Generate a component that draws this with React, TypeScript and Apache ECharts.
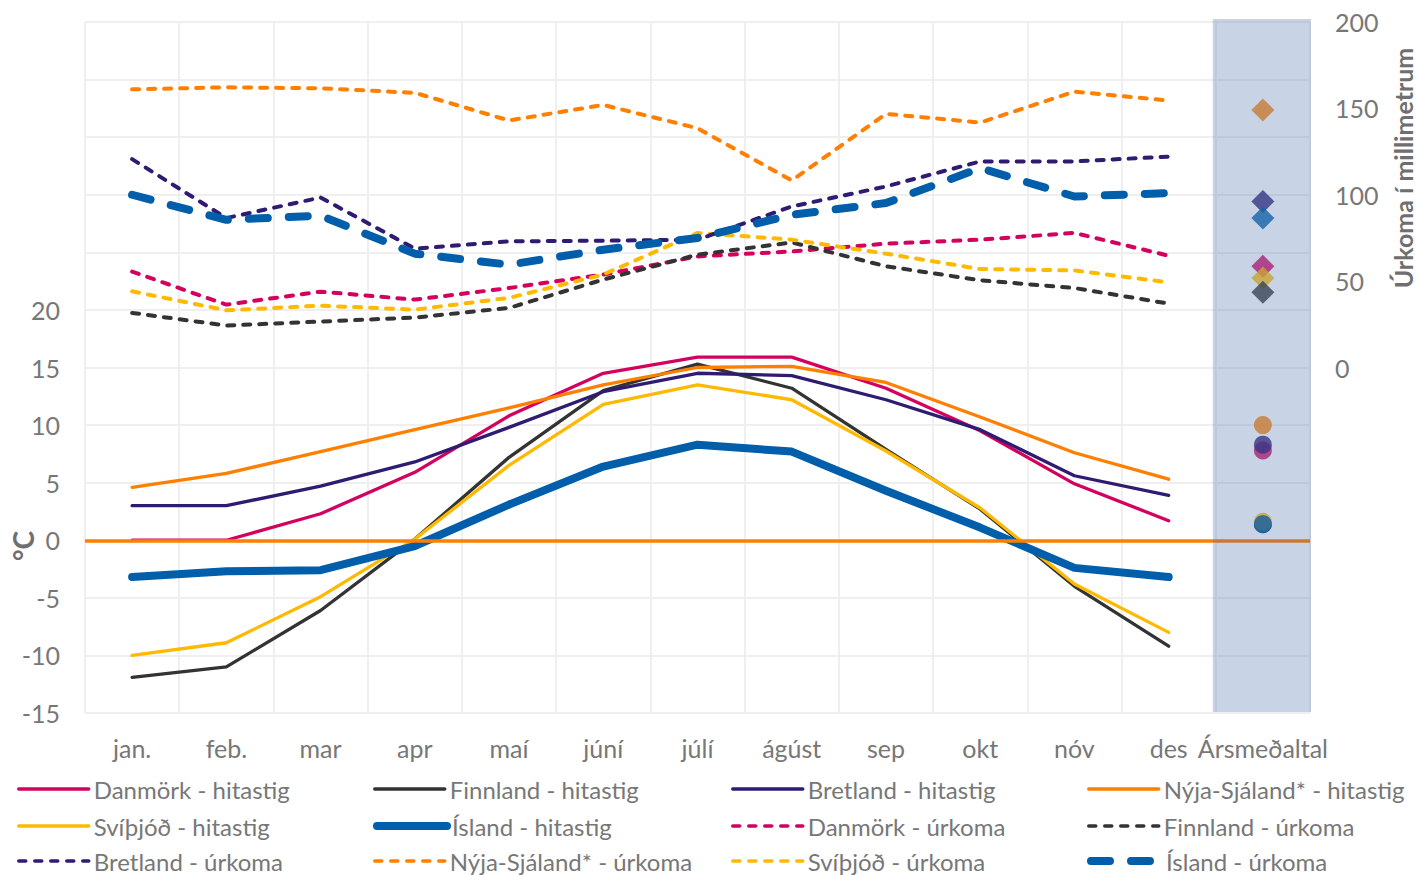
import React, { useEffect, useRef } from "react";
import * as echarts from "echarts";

const categories = ["jan.", "feb.", "mar", "apr", "maí", "júní", "júlí", "ágúst", "sep", "okt", "nóv", "des", "Ársmeðaltal"];
const annualLabel = "Ársmeðaltal";

// Temperature (°C), monthly
const tempDK = [0.0, 0.0, 2.3, 5.9, 10.8, 14.5, 15.9, 15.9, 13.2, 9.5, 4.9, 1.7];
const tempFI = [-11.9, -11.0, -6.1, 0.1, 7.2, 13.0, 15.3, 13.2, 7.9, 2.7, -4.0, -9.2];
const tempUK = [3.0, 3.0, 4.7, 6.8, 9.8, 12.9, 14.5, 14.3, 12.2, 9.6, 5.6, 3.9];
const tempNZ = [4.6, 5.8, 7.7, 9.6, 11.5, 13.5, 15.0, 15.1, 13.7, 10.7, 7.6, 5.3];
const tempSE = [-10.0, -8.9, -4.9, 0.1, 6.5, 11.8, 13.5, 12.2, 7.75, 2.8, -3.8, -8.0];
const tempIS = [-3.2, -2.7, -2.6, -0.5, 3.1, 6.4, 8.3, 7.7, 4.3, 1.1, -2.4, -3.2];

// Precipitation (mm), monthly
const rainDK = [55.5, 36.4, 43.9, 39.3, 46.0, 53.8, 64.3, 67.2, 71.7, 74.0, 77.9, 64.7];
const rainFI = [31.6, 24.3, 26.6, 28.9, 34.5, 50.9, 65.3, 72.4, 58.6, 50.5, 46.0, 37.0];
const rainUK = [120.6, 86.5, 98.4, 68.8, 73.0, 73.4, 74.0, 93.2, 104.8, 119.3, 119.3, 122.1];
const rainNZ = [161.0, 162.2, 161.6, 159.0, 143.0, 152.0, 138.5, 108.3, 146.8, 141.8, 159.7, 154.5];
const rainSE = [44.1, 33.1, 35.8, 33.5, 40.3, 53.8, 77.9, 74.0, 65.9, 57.0, 56.2, 49.3];
const rainIS = [100.0, 85.5, 87.9, 65.9, 59.5, 68.2, 75.0, 88.4, 95.2, 115.4, 99.0, 101.0];

// Annual averages
const annualTemp = { DK: 7.8, FI: 1.4, UK: 8.3, NZ: 10.0, SE: 1.6, IS: 1.4 };
const annualRain = { DK: 58.6, FI: 43.5, UK: 96.1, NZ: 149.1, SE: 51.8, IS: 86.5 };

// Legend order (row-major, 4 columns)
const legendNames = [
  "Danmörk - hitastig", "Finnland - hitastig", "Bretland - hitastig", "Nýja-Sjáland* - hitastig",
  "Svíþjóð - hitastig", "Ísland - hitastig", "Danmörk - úrkoma", "Finnland - úrkoma",
  "Bretland - úrkoma", "Nýja-Sjáland* - úrkoma", "Svíþjóð - úrkoma", "Ísland - úrkoma",
];

const leftTicksMax = 20;

const COLORS = {
  DK: "#d4005e",
  FI: "#333333",
  UK: "#2f1b72",
  NZ: "#ff7f00",
  SE: "#ffb900",
  IS: "#005eaa",
};

const FONT = "Lato";
const GRAY = "#777777";

export default function App() {
  const ref = useRef<HTMLDivElement>(null);

  useEffect(() => {
    if (!ref.current) return;
    const chart = echarts.init(ref.current, null, { renderer: "svg" });

    const tempLine = (name: string, data: number[], color: string, width = 3.3) => ({
      name,
      type: "line",
      yAxisIndex: 0,
      data,
      symbol: "none",
      z: 3,
      lineStyle: { color, width, cap: "round", join: "round" },
      itemStyle: { color },
    });
    const rainLine = (name: string, data: number[], color: string, width = 4, dash = [7, 9]) => ({
      name,
      type: "line",
      yAxisIndex: 1,
      data,
      symbol: "none",
      z: 3,
      lineStyle: { color, width, type: dash, cap: "round", join: "round" },
      itemStyle: { color },
    });
    const scatter = (yAxisIndex: number, value: number, color: string, symbol: string, size: number) => ({
      type: "scatter",
      yAxisIndex,
      data: [[annualLabel, value]],
      symbol,
      symbolSize: size,
      z: 4,
      itemStyle: { color },
      silent: true,
    });

    const colLeft = [17, 373, 731, 1087];
    const rowTop = [777, 814, 849];
    const legends = legendNames.map((name, i) => {
      const thick = name.indexOf("Ísland") === 0;
      return {
        orient: "horizontal",
        left: colLeft[i % 4],
        top: rowTop[Math.floor(i / 4)],
        itemWidth: 70,
        itemHeight: 14,
        padding: 0,
        itemStyle: { opacity: 0 },
        lineStyle: { width: thick ? 8 : 3.5, cap: "round" },
        textStyle: { fontFamily: FONT, fontSize: 24, color: GRAY, lineHeight: 24 },
        data: [name],
      };
    });

    chart.setOption({
      animation: false,
      backgroundColor: "#ffffff",
      textStyle: { fontFamily: FONT },
      grid: { left: 85, right: 107, top: 22, bottom: 162, containLabel: false },
      legend: legends,
      xAxis: {
        type: "category",
        data: categories,
        boundaryGap: true,
        axisLine: { show: false },
        axisTick: { show: false },
        axisLabel: { fontFamily: FONT, fontSize: 25, color: GRAY, margin: 22, interval: 0 },
        splitLine: { show: true, interval: 0, lineStyle: { color: "#efefef", width: 2 } },
      },
      yAxis: [
        {
          type: "value",
          min: -15,
          max: 45,
          interval: 5,
          axisLine: { show: false },
          axisTick: { show: false },
          axisLabel: {
            fontFamily: FONT,
            fontSize: 25,
            color: GRAY,
            margin: 25,
            formatter: (v: number) => (v <= leftTicksMax ? String(v) : ""),
          },
          splitLine: { show: true, lineStyle: { color: "#efefef", width: 2 } },
        },
        {
          type: "value",
          min: -200,
          max: 200,
          interval: 50,
          position: "right",
          axisLine: { show: false },
          axisTick: { show: false },
          axisLabel: {
            fontFamily: FONT,
            fontSize: 25,
            color: GRAY,
            margin: 25,
            formatter: (v: number) => (v >= 0 ? String(v) : ""),
          },
          splitLine: { show: false },
        },
      ],
      graphic: [
        {
          type: "text",
          x: 23,
          y: 546,
          rotation: Math.PI / 2,
          style: {
            text: "°C",
            fontFamily: FONT,
            fontSize: 28,
            fontWeight: "bold",
            fill: "#6f6f6f",
            align: "center",
            verticalAlign: "middle",
          },
        },
        {
          type: "text",
          x: 1403,
          y: 168,
          rotation: Math.PI / 2,
          style: {
            text: "Úrkoma í millimetrum",
            fontFamily: FONT,
            fontSize: 25,
            fontWeight: "bold",
            fill: "#6f6f6f",
            align: "center",
            verticalAlign: "middle",
          },
        },
      ],
      series: [
        {
          type: "line",
          yAxisIndex: 0,
          data: categories.map(() => null),
          symbol: "none",
          z: 1,
          silent: true,
          markLine: {
            silent: true,
            symbol: "none",
            label: { show: false },
            lineStyle: { color: "#ff7f00", width: 3.5, type: "solid" },
            data: [{ yAxis: 0 }],
          },
        },
        rainLine("Danmörk - úrkoma", rainDK, COLORS.DK),
        rainLine("Finnland - úrkoma", rainFI, COLORS.FI),
        rainLine("Svíþjóð - úrkoma", rainSE, COLORS.SE),
        rainLine("Bretland - úrkoma", rainUK, COLORS.UK),
        rainLine("Nýja-Sjáland* - úrkoma", rainNZ, COLORS.NZ),
        rainLine("Ísland - úrkoma", rainIS, COLORS.IS, 8, [19, 21]),
        tempLine("Danmörk - hitastig", tempDK, COLORS.DK),
        tempLine("Finnland - hitastig", tempFI, COLORS.FI),
        tempLine("Bretland - hitastig", tempUK, COLORS.UK),
        tempLine("Nýja-Sjáland* - hitastig", tempNZ, COLORS.NZ),
        tempLine("Svíþjóð - hitastig", tempSE, COLORS.SE),
        tempLine("Ísland - hitastig", tempIS, COLORS.IS, 8),
        scatter(1, annualRain.DK, COLORS.DK, "diamond", 23),
        scatter(1, annualRain.SE, COLORS.SE, "diamond", 23),
        scatter(1, annualRain.FI, COLORS.FI, "diamond", 23),
        scatter(1, annualRain.UK, COLORS.UK, "diamond", 23),
        scatter(1, annualRain.IS, COLORS.IS, "diamond", 23),
        scatter(1, annualRain.NZ, COLORS.NZ, "diamond", 23),
        scatter(0, annualTemp.FI, COLORS.FI, "circle", 18),
        scatter(0, annualTemp.DK, COLORS.DK, "circle", 18),
        scatter(0, annualTemp.UK, COLORS.UK, "circle", 18),
        scatter(0, annualTemp.NZ, COLORS.NZ, "circle", 18),
        scatter(0, annualTemp.SE, COLORS.SE, "circle", 18),
        scatter(0, annualTemp.IS, COLORS.IS, "circle", 18),
        {
          type: "custom",
          yAxisIndex: 0,
          z: 10,
          silent: true,
          data: [[categories.indexOf(annualLabel), 0]],
          renderItem: (params: any, api: any) => {
            const c = api.coord([api.value(0), 0]);
            const w = api.size([1, 0])[0];
            const cs = params.coordSys;
            return {
              type: "rect",
              shape: { x: c[0] - w / 2 - 3, y: cs.y - 3, width: w + 4, height: cs.height + 2 },
              style: { fill: "rgba(72,112,172,0.3)" },
            };
          },
        },
      ],
    });

    return () => chart.dispose();
  }, []);

  return <div ref={ref} style={{ width: 1417, height: 875, position: "absolute", left: 0, top: 0 }} />;
}
